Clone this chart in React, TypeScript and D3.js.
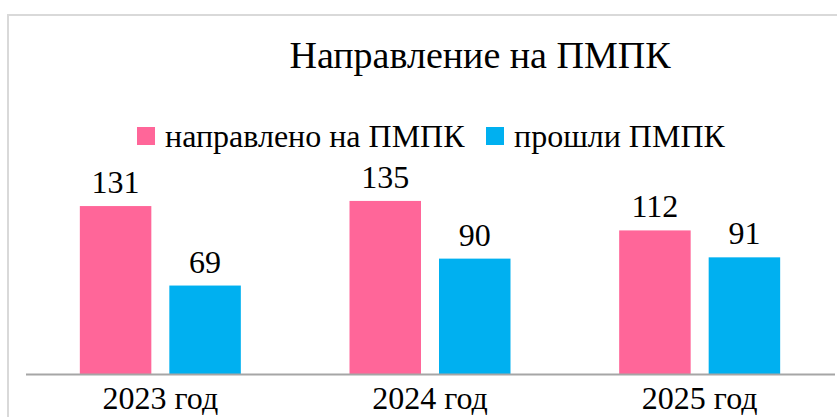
import { useEffect, useRef } from "react";
import * as d3 from "d3";

// chart data
const categories = ["2023 год", "2024 год", "2025 год"];
const seriesNames = ["направлено на ПМПК", "прошли ПМПК"];
const sentValues = [131, 135, 112];
const passedValues = [69, 90, 91];
const seriesColors = ["#FF6699", "#00B0F0"];
const title = "Направление на ПМПК";

const W = 837;
const H = 417;
const font = "Liberation Serif, Tinos, DejaVu Serif, serif";

export default function App() {
    const ref = useRef<SVGSVGElement>(null);

    useEffect(() => {
        const svg = d3.select(ref.current);
        svg.selectAll("*").remove();

        const baseY = 374;
        const plotLeft = 25.5;
        const plotRight = 834.5;

        // chart frame (goes past the picture on the right and bottom)
        svg.append("rect")
            .attr("x", 8)
            .attr("y", 15)
            .attr("width", 1000)
            .attr("height", 500)
            .attr("fill", "white")
            .attr("stroke", "#d9d9d9")
            .attr("stroke-width", 2);

        // title
        svg.append("text")
            .attr("x", 480)
            .attr("y", 68)
            .attr("text-anchor", "middle")
            .style("font-family", font)
            .attr("font-size", 38)
            .attr("fill", "#000")
            .text(title);

        const x0 = d3.scaleBand<string>()
            .domain(categories)
            .range([plotLeft, plotRight]);

        const groupW = 161;
        const bw = x0.bandwidth();
        const x1 = d3.scaleBand<string>()
            .domain(seriesNames)
            .range([(bw - groupW) / 2, (bw + groupW) / 2])
            .paddingInner(18 / 89.5);

        const y = d3.scaleLinear()
            .domain([0, 140])
            .range([baseY, baseY - 140 * 1.282]);

        const rows = categories.map((c, i) => ({
            cat: c,
            vals: [sentValues[i], passedValues[i]],
        }));

        const groups = svg.append("g")
            .selectAll("g")
            .data(rows)
            .enter().append("g")
            .attr("transform", (d) => `translate(${x0(d.cat)},0)`);

        groups.selectAll("rect")
            .data((d) => d.vals.map((v, j) => ({ name: seriesNames[j], v, j })))
            .enter().append("rect")
            .attr("x", (d) => x1(d.name)!)
            .attr("y", (d) => y(d.v))
            .attr("width", x1.bandwidth())
            .attr("height", (d) => baseY - y(d.v))
            .attr("fill", (d) => seriesColors[d.j]);

        groups.selectAll("text")
            .data((d) => d.vals.map((v, j) => ({ name: seriesNames[j], v })))
            .enter().append("text")
            .attr("x", (d) => x1(d.name)! + x1.bandwidth() / 2)
            .attr("y", (d) => y(d.v) - 13)
            .attr("text-anchor", "middle")
            .style("font-family", font)
            .attr("font-size", 32)
            .attr("fill", "#000")
            .text((d) => d.v);

        // x axis
        const xAxis = d3.axisBottom(x0).tickSize(0).tickPadding(0);
        const axisG = svg.append("g")
            .attr("transform", `translate(0,${baseY})`)
            .call(xAxis);
        axisG.select(".domain")
            .attr("stroke", "#a6a6a6")
            .attr("stroke-width", 2);
        axisG.selectAll(".tick text")
            .style("font-family", font)
            .attr("font-size", 32)
            .attr("fill", "#000")
            .attr("dy", 0)
            .attr("y", 35);

        // legend
        const legendX = [137, 486];
        const legend = svg.append("g")
            .selectAll("g")
            .data(seriesNames)
            .enter().append("g")
            .attr("transform", (d, i) => `translate(${legendX[i]},127)`);
        legend.append("rect")
            .attr("width", 18)
            .attr("height", 18)
            .attr("fill", (d, i) => seriesColors[i]);
        legend.append("text")
            .attr("x", 28)
            .attr("y", 20)
            .style("font-family", font)
            .attr("font-size", 32)
            .attr("fill", "#000")
            .text((d) => d);
    }, []);

    return (
        <svg ref={ref} width={W} height={H}
            style={{ position: "absolute", left: 0, top: 0, background: "white" }}></svg>
    );
}
